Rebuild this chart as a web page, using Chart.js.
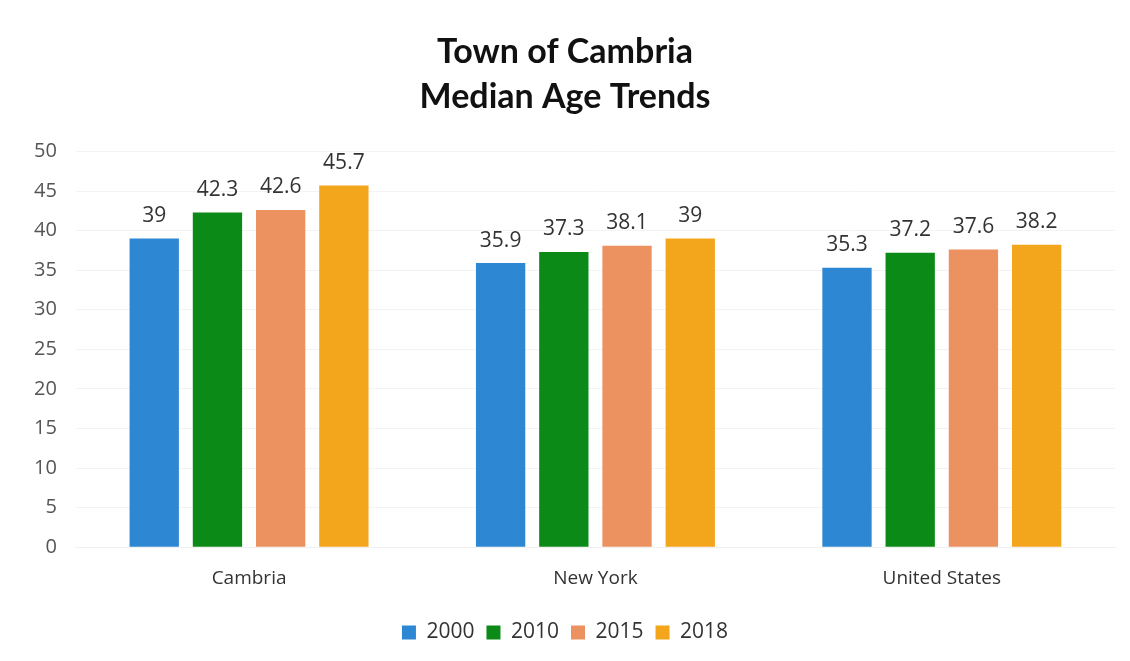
<!DOCTYPE html>
<html>
<head>
<meta charset="utf-8">
<script src="https://cdn.jsdelivr.net/npm/chart.js@4"></script>
<style>
  html, body { margin: 0; padding: 0; background: #fff; }
  #wrap { width: 1130px; height: 661px; }
</style>
</head>
<body>
<div id="wrap"><canvas id="myChart"></canvas></div>
<script>
const places = ["Cambria", "New York", "United States"];
const years = ["2000", "2010", "2015", "2018"];
const age2000 = [39, 35.9, 35.3];
const age2010 = [42.3, 37.3, 37.2];
const age2015 = [42.6, 38.1, 37.6];
const age2018 = [45.7, 39, 38.2];
const yTicks = [0, 5, 10, 15, 20, 25, 30, 35, 40, 45, 50];
const colors = ["#2d87d3", "#0b8a17", "#ec9160", "#f3a51b"];

const font = "'Open Sans', sans-serif";

// draws the value above each bar
const valueLabels = {
    id: "valueLabels",
    afterDatasetsDraw(chart) {
        const c = chart.ctx;
        c.save();
        c.font = "21px " + font;
        c.fillStyle = "#333";
        c.textAlign = "center";
        c.textBaseline = "bottom";
        chart.data.datasets.forEach((ds, i) => {
            chart.getDatasetMeta(i).data.forEach((bar, j) => {
                c.fillText(String(ds.data[j]), bar.x, bar.y - 12);
            });
        });
        c.restore();
    }
};

const ctx = document.getElementById("myChart");

new Chart(ctx, {
    type: "bar",
    data: {
        labels: places,
        datasets: [age2000, age2010, age2015, age2018].map((d, i) => ({
            label: years[i],
            data: d,
            backgroundColor: colors[i],
            categoryPercentage: 0.73,
            barPercentage: 0.78
        }))
    },
    options: {
        responsive: true,
        maintainAspectRatio: false,
        animation: false,
        layout: { padding: { left: 15, right: 15, top: 8, bottom: 8 } },
        plugins: {
            title: {
                display: true,
                text: ["Town of Cambria", "Median Age Trends"],
                color: "#111",
                font: { family: "Lato, sans-serif", size: 34, weight: "bold", lineHeight: 1.33 },
                padding: { top: 21, bottom: 32 }
            },
            legend: {
                position: "bottom",
                labels: {
                    color: "#333",
                    font: { family: font, size: 21 },
                    boxWidth: 14,
                    boxHeight: 14,
                    padding: 12
                }
            },
            tooltip: { enabled: false }
        },
        scales: {
            x: {
                grid: { display: false },
                border: { display: true, color: "#f0f0f0" },
                ticks: { color: "#333", font: { family: font, size: 19 }, padding: 12 },
                afterFit: s => { s.height += 8; }
            },
            y: {
                min: 0,
                max: 50,
                afterBuildTicks: axis => { axis.ticks = yTicks.map(v => ({ value: v })); },
                grid: { color: "#f3f3f3", drawTicks: false },
                border: { display: false },
                ticks: { color: "#555", font: { family: font, size: 20 }, padding: 19 }
            }
        }
    },
    plugins: [valueLabels]
});
</script>
</body>
</html>
